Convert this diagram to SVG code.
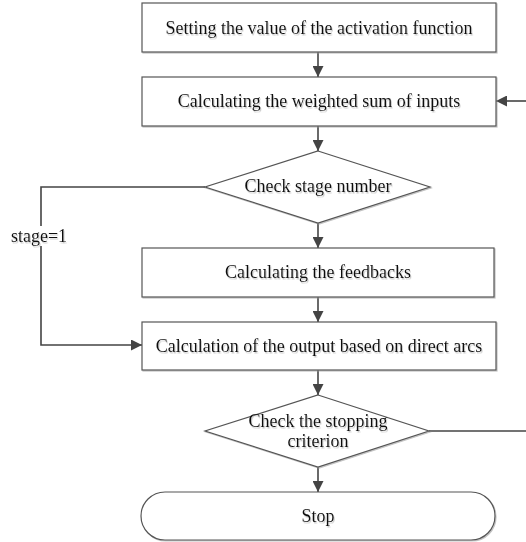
<svg xmlns="http://www.w3.org/2000/svg" width="526" height="542" viewBox="0 0 526 542">
<style>
.n{fill:#fff;stroke:#555;stroke-width:1.2;filter:url(#sh)}
.t{font-family:"Liberation Serif","Times New Roman",serif;font-size:18px;fill:#111;text-anchor:middle;dominant-baseline:central;filter:url(#tsh)}
.c{fill:none;stroke:#444;stroke-width:1.6}
</style>
<defs>
<marker id="ah" viewBox="0 0 10 10" refX="10" refY="5" markerWidth="11" markerHeight="11" markerUnits="userSpaceOnUse" orient="auto">
<path d="M0,0 L10,5 L0,10 z" fill="#444"/>
</marker>
<filter id="sh" x="-5%" y="-5%" width="110%" height="120%">
<feDropShadow dx="1" dy="1" stdDeviation="0.6" flood-color="#999" flood-opacity="0.6"/>
</filter>
<filter id="tsh" x="-5%" y="-20%" width="110%" height="150%">
<feDropShadow dx="1" dy="1.5" stdDeviation="0.6" flood-color="#aaa" flood-opacity="0.6"/>
</filter>
</defs>
<rect width="526" height="542" fill="#fff"/>
<g id="connectors">
<path class="c" d="M318,52 V77" marker-end="url(#ah)"/>
<path class="c" d="M526,101 H496" marker-end="url(#ah)"/>
<path class="c" d="M318,126 V151" marker-end="url(#ah)"/>
<path class="c" d="M205,187 H41 V345 H142" marker-end="url(#ah)"/>
<path class="c" d="M318,223 V248" marker-end="url(#ah)"/>
<path class="c" d="M318,297 V322" marker-end="url(#ah)"/>
<path class="c" d="M318,370 V395" marker-end="url(#ah)"/>
<path class="c" d="M429,431 H526"/>
<path class="c" d="M318,467 V492" marker-end="url(#ah)"/>
<rect x="10" y="226" width="60" height="20" fill="#fff"/>
<text class="t" x="39" y="236">stage=1</text>
</g>
<g id="n1"><rect class="n" x="142" y="3" width="354" height="49"/><text class="t" x="319" y="28">Setting the value of the activation function</text></g>
<g id="n2"><rect class="n" x="142" y="77" width="354" height="49"/><text class="t" x="319" y="101">Calculating the weighted sum of inputs</text></g>
<g id="n3"><polygon class="n" points="318,151 430,187 318,223 205,187"/><text class="t" x="318" y="186">Check stage number</text></g>
<g id="n4"><rect class="n" x="142" y="248" width="352" height="49"/><text class="t" x="318" y="272">Calculating the feedbacks</text></g>
<g id="n5"><rect class="n" x="142" y="322" width="354" height="48"/><text class="t" x="319" y="346">Calculation of the output based on direct arcs</text></g>
<g id="n6"><polygon class="n" points="318,395 429,431 318,467 205,431"/><text class="t" x="318" y="421">Check the stopping</text><text class="t" x="318" y="441">criterion</text></g>
<g id="n7"><rect class="n" x="141" y="492" width="354" height="48" rx="24" ry="24"/><text class="t" x="318" y="516">Stop</text></g>
</svg>
